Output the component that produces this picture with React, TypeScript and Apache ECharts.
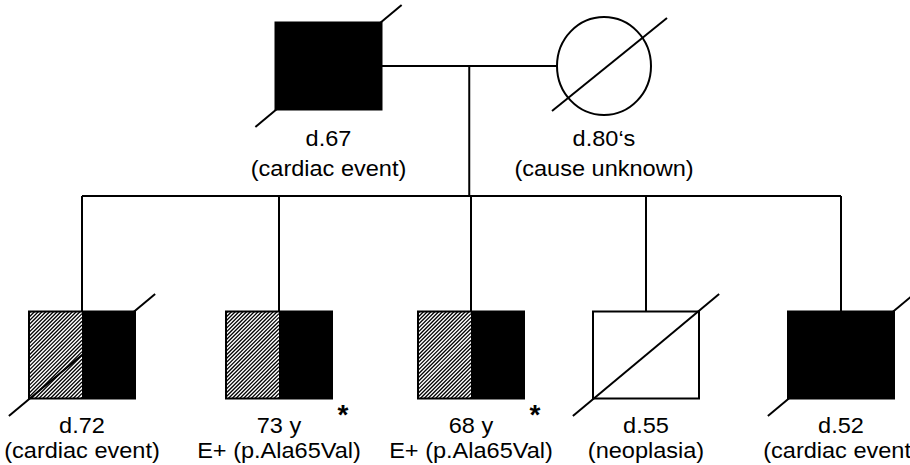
import React, { useEffect, useRef } from "react";
import * as echarts from "echarts";

// ---- Pedigree data ----
const gen1Names = ["Father", "Mother"];
const gen1Sex = ["M", "F"];
const gen1Affection = ["full", "none"];
const gen1Deceased = [true, true];
const gen1Age = ["d.67", "d.80\u2018s"];
const gen1Note = ["(cardiac event)", "(cause unknown)"];

const gen2Names = ["II-1", "II-2", "II-3", "II-4", "II-5"];
const gen2Sex = ["M", "M", "M", "M", "M"];
const gen2Affection = ["half", "half", "half", "none", "full"];
const gen2Deceased = [true, false, false, true, true];
const gen2Age = ["d.72", "73 y", "68 y", "d.55", "d.52"];
const gen2Note = ["(cardiac event)", "E+ (p.Ala65Val)", "E+ (p.Ala65Val)", "(neoplasia)", "(cardiac event)"];
const gen2Marked = [false, true, true, false, false];

// ---- Layout (positions in canvas units) ----
const W = 910;
const H = 465;
const gen1X = [328.5, 604];
const gen1Y = 66;
const gen2X = [82, 279, 471, 646, 841];
const gen2Y = 355;
const sibY = 196;
const SQ_W = 106;
const SQ_H = 87;
const C_RX = 47;
const C_RY = 49;
const LABEL1_DY = 72;
const LABEL2_DY = 102;
const LABEL1_DY2 = 70;
const LABEL2_DY2 = 95;
const FONT = '"Liberation Sans", Arial, Helvetica, sans-serif';
const FONT_SIZE = 22;
const TEXT_SCALE_X = 1.07;

type Person = {
  name: string; sex: string; aff: string; dec: boolean;
  age: string; note: string; mark: boolean; x: number; y: number; gen: number;
};

const people: Person[] = [
  ...gen1Names.map((n, i) => ({
    name: n, sex: gen1Sex[i], aff: gen1Affection[i], dec: gen1Deceased[i],
    age: gen1Age[i], note: gen1Note[i], mark: false, x: gen1X[i], y: gen1Y, gen: 1,
  })),
  ...gen2Names.map((n, i) => ({
    name: n, sex: gen2Sex[i], aff: gen2Affection[i], dec: gen2Deceased[i],
    age: gen2Age[i], note: gen2Note[i], mark: gen2Marked[i], x: gen2X[i], y: gen2Y, gen: 2,
  })),
];

// connectors
const fatherRight = gen1X[0] + SQ_W / 2;
const motherLeft = gen1X[1] - C_RX;
const descentX = (fatherRight + motherLeft) / 2;
const connectors: number[][] = [
  [fatherRight, gen1Y, motherLeft, gen1Y],
  [descentX, gen1Y, descentX, sibY],
  [gen2X[0], sibY, gen2X[gen2X.length - 1], sibY],
  ...gen2X.map((x) => [x, sibY, x, gen2Y - SQ_H / 2]),
];

function hatchLines(x0: number, y0: number, x1: number, y1: number, step: number) {
  const out: any[] = [];
  for (let c = x0 + y0 + step / 2; c < x1 + y1; c += step) {
    const xa = Math.max(x0, c - y1);
    const xb = Math.min(x1, c - y0);
    if (xb <= xa) continue;
    out.push({
      type: "line",
      shape: { x1: xa, y1: c - xa, x2: xb, y2: c - xb },
      style: { stroke: "#000", lineWidth: 1.3 },
    });
  }
  return out;
}

function textEl(text: string, x: number, y: number, size: number, weight = "normal", sx = TEXT_SCALE_X) {
  return {
    type: "text",
    x, y, scaleX: sx, scaleY: 1,
    style: {
      text, x: 0, y: 0, fill: "#000", fontSize: size, fontFamily: FONT, fontWeight: weight,
      align: "center", verticalAlign: "middle", textAlign: "center", textVerticalAlign: "middle",
    },
  };
}

export default function App() {
  const ref = useRef<HTMLDivElement>(null);
  useEffect(() => {
    if (!ref.current) return;
    const chart = echarts.init(ref.current, undefined, { renderer: "svg" });
    const option: any = {
      animation: false,
      backgroundColor: "#fff",
      grid: { left: 0, right: 0, top: 0, bottom: 0 },
      xAxis: { type: "value", min: 0, max: W, show: false },
      yAxis: { type: "value", min: 0, max: H, inverse: true, show: false },
      series: [
        {
          type: "custom",
          name: "connectors",
          clip: false,
          silent: true,
          data: connectors,
          renderItem: (params: any, api: any) => {
            const p1 = api.coord([api.value(0), api.value(1)]);
            const p2 = api.coord([api.value(2), api.value(3)]);
            return {
              type: "line",
              shape: { x1: p1[0], y1: p1[1], x2: p2[0], y2: p2[1] },
              style: { stroke: "#000", lineWidth: 2 },
            };
          },
        },
        {
          type: "custom",
          name: "individuals",
          clip: false,
          silent: true,
          data: people.map((p) => [p.x, p.y]),
          renderItem: (params: any, api: any) => {
            const p = people[params.dataIndex];
            const c = api.coord([api.value(0), api.value(1)]);
            const children: any[] = [];
            let bx0: number, by0: number, bx1: number, by1: number;
            if (p.sex === "F") {
              const s = api.size([C_RX, C_RY]);
              bx0 = c[0] - s[0]; bx1 = c[0] + s[0]; by0 = c[1] - s[1]; by1 = c[1] + s[1];
              children.push({
                type: "ellipse",
                shape: { cx: c[0], cy: c[1], rx: s[0], ry: s[1] },
                style: { fill: p.aff === "full" ? "#000" : "#fff", stroke: "#000", lineWidth: 2 },
              });
            } else {
              const s = api.size([SQ_W, SQ_H]);
              bx0 = c[0] - s[0] / 2; bx1 = c[0] + s[0] / 2; by0 = c[1] - s[1] / 2; by1 = c[1] + s[1] / 2;
              if (p.aff === "half") {
                children.push({ type: "rect", shape: { x: bx0, y: by0, width: s[0], height: s[1] }, style: { fill: "#fff" } });
                children.push(...hatchLines(bx0, by0, c[0], by1, 3.8));
                children.push({ type: "rect", shape: { x: c[0], y: by0, width: s[0] / 2, height: s[1] }, style: { fill: "#000" } });
                children.push({ type: "rect", shape: { x: bx0, y: by0, width: s[0], height: s[1] }, style: { fill: "none", stroke: "#000", lineWidth: 2 } });
              } else {
                children.push({
                  type: "rect",
                  shape: { x: bx0, y: by0, width: s[0], height: s[1] },
                  style: { fill: p.aff === "full" ? "#000" : "#fff", stroke: "#000", lineWidth: 2 },
                });
              }
            }
            if (p.dec) {
              const ex = (bx1 - bx0) * 0.19;
              const ey = (by1 - by0) * 0.2;
              if (p.sex === "F") {
                children.push({
                  type: "line",
                  shape: { x1: c[0] - 52, y1: c[1] + 45, x2: c[0] + 63, y2: c[1] - 48 },
                  style: { stroke: "#000", lineWidth: 2 },
                });
              } else {
                children.push({
                  type: "line",
                  shape: { x1: bx0 - ex, y1: by1 + ey, x2: bx1 + ex, y2: by0 - ey },
                  style: { stroke: "#000", lineWidth: 2 },
                });
              }
            }
            const d1 = p.gen === 1 ? LABEL1_DY : LABEL1_DY2;
            const d2 = p.gen === 1 ? LABEL2_DY : LABEL2_DY2;
            children.push(textEl(p.age, c[0], c[1] + d1, FONT_SIZE));
            children.push(textEl(p.note, c[0], c[1] + d2, FONT_SIZE));
            if (p.mark) {
              children.push(textEl("*", bx1 + 11, by1 + 16, 28, "bold", 1));
            }
            return { type: "group", children };
          },
        },
      ],
    };
    chart.setOption(option);
    return () => chart.dispose();
  }, []);
  return (
    <div
      ref={ref}
      style={{ position: "fixed", left: 0, top: 0, width: W, height: H, background: "#fff" }}
    />
  );
}
